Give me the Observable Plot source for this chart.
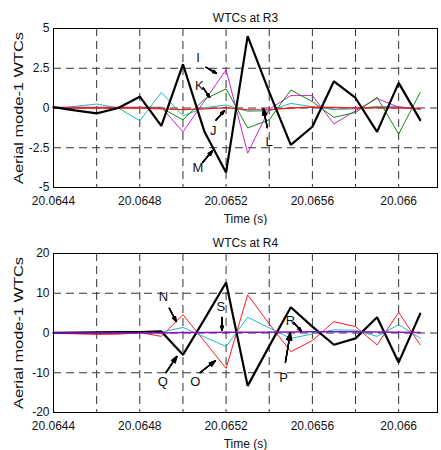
<!DOCTYPE html>
<html><head><meta charset="utf-8">
<script src="https://cdn.jsdelivr.net/npm/d3@7"></script>
<script src="https://cdn.jsdelivr.net/npm/@observablehq/plot@0.6"></script>
<style>body{margin:0;background:#fff} #chart{width:441px}</style>
</head><body><div id="chart"></div>
<script>
// Time axis samples (s)
const times = [20.0644, 20.0645, 20.0646, 20.0647, 20.0648, 20.0649, 20.0650, 20.0651, 20.0652,
               20.0653, 20.0654, 20.0655, 20.0656, 20.0657, 20.0658, 20.0659, 20.0660, 20.0661];
const xTicks = [20.0644, 20.0648, 20.0652, 20.0656, 20.066];
const xTickLabels = ["20.0644", "20.0648", "20.0652", "20.0656", "20.066"];
const xGrid = [20.0646, 20.0648, 20.0650, 20.0652, 20.0654, 20.0656, 20.0658, 20.0660];
const xDomain = [20.0644, 20.06618];

// Panel 1: WTCs at R3
const r3Title = "WTCs at R3";
const r3Black   = [0.05, -0.15, -0.34, 0.0, 0.71, -1.12, 2.75, -1.5, -4.05, 4.52, 1.0, -2.32, -1.18, 1.68, 0.63, -1.5, 1.58, -0.76];
const r3Cyan    = [-0.05, 0.1, 0.25, 0.0, -0.8, 0.98, -0.49, 0.02, 0.19, -0.21, -0.18, 0.29, 0.08, -0.1, -0.05, 0.1, 0.1, -0.1];
const r3Green   = [0, 0, 0, 0, 0.02, 0.0, -0.74, 0.55, 1.2, -1.26, -0.74, 1.13, 0.4, -0.59, -0.28, 0.67, -1.64, 0.98];
const r3Magenta = [0.05, 0.05, 0.05, 0.05, 0.05, 0.05, -1.5, 0.45, 2.4, -2.84, -0.07, 0.78, 0.78, -1.0, -0.17, 0.6, 0.05, -0.07];
const r3Red     = [0, 0, 0, 0, 0, -0.05, -0.1, -0.05, 0.02, -0.12, -0.1, 0.0, 0.05, 0.03, 0.0, 0.02, 0.0, -0.02];
const r3YTicks = [-5, -2.5, 0, 2.5, 5];
const r3YTickLabels = ["-5", "-2.5", "0", "2.5", "5"];
const r3Labels = [
  {t: 20.06507, v: 3.17, label: "I"},
  {t: 20.065076, v: 1.41, label: "K"},
  {t: 20.06514, v: -1.43, label: "J"},
  {t: 20.06507, v: -3.75, label: "M"},
  {t: 20.0654, v: -2.13, label: "L"}
];
const r3Arrows = [
  {t1: 20.065107, v1: 2.56, t2: 20.065155, v2: 2.18},
  {t1: 20.065094, v1: 1.26, t2: 20.065124, v2: 0.67},
  {t1: 20.065153, v1: -0.76, t2: 20.065192, v2: -0.17},
  {t1: 20.065091, v1: -3.43, t2: 20.065137, v2: -2.69},
  {t1: 20.065391, v1: -1.24, t2: 20.065373, v2: -0.04}
];

// Panel 2: WTCs at R4
const r4Title = "WTCs at R4";
const r4Black  = [0.05, 0.1, 0.15, 0.2, 0.25, 0.4, -5.5, 3.5, 12.7, -13.3, -3.3, 6.47, 1.6, -2.95, -1.35, 3.95, -7.4, 4.87];
const r4Red    = [-0.1, -0.2, -0.35, -0.3, 0.1, -0.85, 4.6, -2.1, -8.9, 9.6, 2.3, -4.7, -1.9, 2.85, 1.6, -3.0, 5.2, -3.0];
const r4Cyan   = [0, 0, 0, 0, 0.05, 0.2, 1.4, -1.0, -3.4, 3.95, 1.3, -1.35, -0.25, 0.8, 0.7, -0.85, 2.1, -1.3];
const r4Purple = [0, 0, 0, 0, 0, 0, 0.1, 0.15, 0.2, 0.2, 0.2, 0.25, 0.3, 0.3, 0.3, 0.25, 0.2, 0.1];
const r4YTicks = [-20, -10, 0, 10, 20];
const r4YTickLabels = ["-20", "-10", "0", "10", "20"];
const r4Labels = [
  {t: 20.06491, v: 9.0, label: "N"},
  {t: 20.065176, v: 6.46, label: "S"},
  {t: 20.065498, v: 3.1, label: "R"},
  {t: 20.064907, v: -12.3, label: "Q"},
  {t: 20.065057, v: -12.3, label: "O"},
  {t: 20.065467, v: -11.2, label: "P"}
];
const r4Arrows = [
  {t1: 20.064937, v1: 6.2, t2: 20.064969, v2: 2.9},
  {t1: 20.065181, v1: 3.94, t2: 20.065181, v2: 0.7},
  {t1: 20.065513, v1: 2.68, t2: 20.065549, v2: 0.45},
  {t1: 20.064921, v1: -9.95, t2: 20.064972, v2: -5.9},
  {t1: 20.06508, v1: -9.95, t2: 20.06515, v2: -7.0},
  {t1: 20.065475, v1: -7.4, t2: 20.065498, v2: 0.1}
];

const yLabel = "Aerial mode-1 WTCs";
const xLabel = "Time (s)";

function panel(title, series, yDomain, yTicks, yTickLabels, labels, arrows) {
  const xMap = new Map(xTicks.map((d, i) => [d, xTickLabels[i]]));
  const yMap = new Map(yTicks.map((d, i) => [d, yTickLabels[i]]));
  const gridStyle = {stroke: "#333", strokeWidth: 1, strokeDasharray: "8,5"};
  const marks = [
    Plot.ruleX(xGrid, gridStyle),
    Plot.ruleY(yTicks.filter(d => d > yDomain[0] && d < yDomain[1]), gridStyle)
  ];
  for (const s of series) {
    const rows = times.map((t, i) => ({t, v: s.values[i]}));
    marks.push(Plot.line(rows, {x: "t", y: "v", stroke: s.color, strokeWidth: s.width, strokeLinejoin: "miter"}));
  }
  for (const a of [40, 28, 18, 9]) {
    marks.push(Plot.arrow(arrows, {x1: "t1", y1: "v1", x2: "t2", y2: "v2", stroke: "black",
      strokeWidth: 1.3, headLength: 9, headAngle: a}));
  }
  marks.push(Plot.text(labels, {x: "t", y: "v", text: "label", fontSize: 13, fill: "#111"}));
  marks.push(Plot.frame({stroke: "black", strokeWidth: 1}));
  marks.push(Plot.axisX(xTicks, {tickSize: 0, tickPadding: 9, tickFormat: d => xMap.get(d), fontSize: 12,
    label: xLabel, labelAnchor: "center", labelOffset: 35, labelArrow: "none"}));
  marks.push(Plot.axisY(yTicks, {tickSize: 0, tickPadding: 4, tickFormat: d => yMap.get(d), fontSize: 12,
    label: yLabel, labelAnchor: "center", labelOffset: 40, labelArrow: "none"}));
  marks.push(Plot.text([title], {frameAnchor: "top", dy: -15, fontSize: 12, fill: "#111"}));
  const svg = Plot.plot({
    width: 441, height: 225,
    marginTop: 28, marginBottom: 38, marginLeft: 53, marginRight: 4,
    style: {fontFamily: "Liberation Sans, Arial, sans-serif", fontSize: "12px", color: "#111", background: "white"},
    x: {domain: xDomain, type: "linear"},
    y: {domain: yDomain, type: "linear"},
    marks
  });
  // stretch the rotated y label along its length, as in the reference
  for (const t of svg.querySelectorAll("text")) {
    if (t.textContent === yLabel) {
      t.setAttribute("textLength", "152");
      t.setAttribute("lengthAdjust", "spacingAndGlyphs");
      t.setAttribute("font-size", "13");
    }
  }
  return svg;
}

const panelR3 = panel(r3Title, [
  {values: r3Cyan, color: "#1cbcbc", width: 1},
  {values: r3Magenta, color: "#d21fd2", width: 1},
  {values: r3Green, color: "#128a12", width: 1},
  {values: r3Red, color: "#ff1a1a", width: 1.3},
  {values: r3Black, color: "black", width: 2.2}
], [-5, 5], r3YTicks, r3YTickLabels, r3Labels, r3Arrows);

const panelR4 = panel(r4Title, [
  {values: r4Red, color: "#ff1a1a", width: 1},
  {values: r4Cyan, color: "#1cbcbc", width: 1},
  {values: r4Black, color: "black", width: 2.2},
  {values: r4Purple, color: "#8e10c8", width: 1.5}
], [-20, 20], r4YTicks, r4YTickLabels, r4Labels, r4Arrows);

const chart = document.getElementById("chart");
chart.appendChild(panelR3);
chart.appendChild(panelR4);
</script>
</body></html>
